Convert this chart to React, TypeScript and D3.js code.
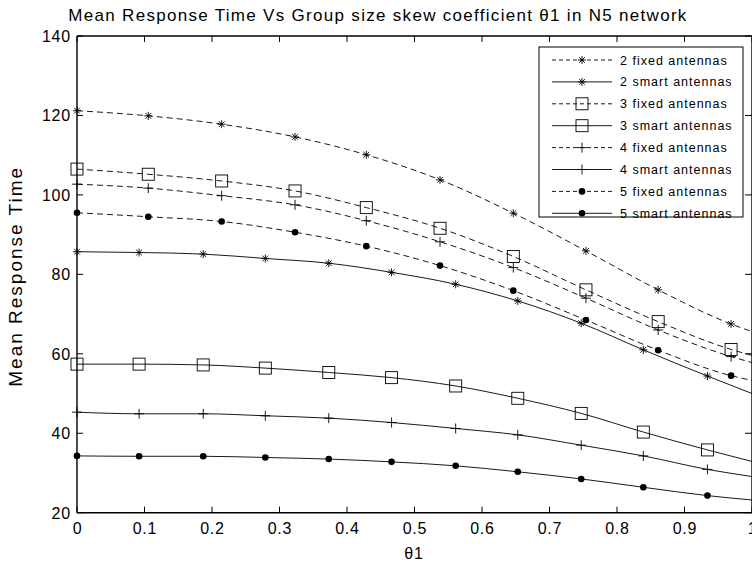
import React from "react";
import * as d3 from "d3";

const fixedX = [0, 0.1056, 0.2143, 0.323, 0.4286, 0.5378, 0.6464, 0.754, 0.861, 0.969, 1];
const smartX = [0, 0.092, 0.187, 0.279, 0.373, 0.466, 0.561, 0.653, 0.747, 0.839, 0.934, 1];

const fixed2 = [121.2, 119.9, 117.8, 114.6, 110.1, 103.8, 95.4, 85.9, 76.1, 67.5, 65.6];
const fixed3 = [106.5, 105.2, 103.5, 101.0, 96.8, 91.6, 84.5, 76.1, 68.1, 61.1, 59.6];
const fixed4 = [102.7, 101.7, 99.8, 97.5, 93.5, 88.2, 81.7, 74.0, 66.0, 59.3, 57.8];
const fixed5 = [95.5, 94.5, 93.3, 90.6, 87.1, 82.2, 75.9, 68.5, 60.9, 54.5, 53.3];
const smart2 = [85.7, 85.5, 85.1, 84.0, 82.8, 80.5, 77.5, 73.3, 67.7, 61.0, 54.4, 50.0];
const smart3 = [57.4, 57.4, 57.2, 56.4, 55.3, 54.0, 51.9, 48.8, 45.0, 40.3, 35.8, 32.9];
const smart4 = [45.3, 44.9, 44.9, 44.4, 43.8, 42.7, 41.2, 39.6, 37.0, 34.3, 30.9, 29.1];
const smart5 = [34.3, 34.2, 34.2, 33.9, 33.5, 32.8, 31.8, 30.3, 28.5, 26.4, 24.3, 23.2];

const seriesNames = [
  "2 fixed antennas",
  "2 smart antennas",
  "3 fixed antennas",
  "3 smart antennas",
  "4 fixed antennas",
  "4 smart antennas",
  "5 fixed antennas",
  "5 smart antennas",
];
const seriesMarkers = ["star", "star", "square", "square", "plus", "plus", "dot", "dot"];
const seriesDashed = [true, false, true, false, true, false, true, false];
const seriesX = [fixedX, smartX, fixedX, smartX, fixedX, smartX, fixedX, smartX];
const seriesY = [fixed2, smart2, fixed3, smart3, fixed4, smart4, fixed5, smart5];

const xTicks = [0, 0.1, 0.2, 0.3, 0.4, 0.5, 0.6, 0.7, 0.8, 0.9, 1];
const yTicks = [20, 40, 60, 80, 100, 120, 140];

const W = 752;
const H = 567;
const left = 77;
const right = 752;
const top = 36;
const bottom = 512.7;

const FONT = "Liberation Sans, Arial, Helvetica, sans-serif";

function Marker({ type, x, y }: { type: string; x: number; y: number }) {
  if (type === "star") {
    const r = 4;
    const d = 2.9;
    return (
      <g stroke="#000" strokeWidth={0.9}>
        <line x1={x - r} y1={y} x2={x + r} y2={y} />
        <line x1={x} y1={y - r} x2={x} y2={y + r} />
        <line x1={x - d} y1={y - d} x2={x + d} y2={y + d} />
        <line x1={x - d} y1={y + d} x2={x + d} y2={y - d} />
      </g>
    );
  }
  if (type === "plus") {
    const r = 5;
    return (
      <g stroke="#000" strokeWidth={0.9}>
        <line x1={x - r} y1={y} x2={x + r} y2={y} />
        <line x1={x} y1={y - r} x2={x} y2={y + r} />
      </g>
    );
  }
  if (type === "square") {
    const s = 6;
    return <rect x={x - s} y={y - s} width={2 * s} height={2 * s} fill="none" stroke="#000" strokeWidth={0.9} />;
  }
  return <circle cx={x} cy={y} r={3.3} fill="#000" />;
}

export default function App() {
  const xs = d3.scaleLinear().domain([0, 1]).range([left, right]);
  const ys = d3.scaleLinear().domain([20, 140]).range([bottom, top]);
  const line = d3
    .line<[number, number]>()
    .x((d) => xs(d[0]))
    .y((d) => ys(d[1]))
    .curve(d3.curveMonotoneX);

  const legX = 539;
  const legY = 47;
  const legW = 204;
  const legH = 170;
  const rowH = 21.9;

  return (
    <svg
      width={W}
      height={H}
      style={{ position: "absolute", left: 0, top: 0, background: "#fff" }}
      fontFamily={FONT}
    >
      <rect x={0} y={0} width={W} height={H} fill="#fff" />
      <text x={378} y={21} textAnchor="middle" fontSize={17} letterSpacing={1.3}>
        Mean Response Time Vs Group size skew coefficient θ1 in N5 network
      </text>

      {/* series */}
      {seriesY.map((ys_, i) => {
        const pts: [number, number][] = seriesX[i].map((x, j) => [x, ys_[j]]);
        return (
          <g key={i}>
            <path
              d={line(pts) || ""}
              fill="none"
              stroke="#000"
              strokeWidth={0.9}
              strokeDasharray={seriesDashed[i] ? "6,4" : undefined}
            />
            {pts.slice(0, pts.length - 1).map((p, j) => (
              <Marker key={j} type={seriesMarkers[i]} x={xs(p[0])} y={ys(p[1])} />
            ))}
          </g>
        );
      })}

      {/* axes box */}
      <g stroke="#000" strokeWidth={1.4} fill="none">
        <line x1={left} y1={bottom} x2={right} y2={bottom} />
        <line x1={left} y1={top} x2={right} y2={top} />
        <line x1={left} y1={top} x2={left} y2={bottom} />
        <line x1={right} y1={top} x2={right} y2={bottom} />
      </g>
      <g stroke="#000" strokeWidth={1}>
        {xTicks.map((t, i) => (
          <g key={i}>
            <line x1={xs(t)} y1={bottom} x2={xs(t)} y2={bottom - 6} />
            <line x1={xs(t)} y1={top} x2={xs(t)} y2={top + 6} />
          </g>
        ))}
        {yTicks.map((t, i) => (
          <g key={i}>
            <line x1={left} y1={ys(t)} x2={left + 6} y2={ys(t)} />
            <line x1={right} y1={ys(t)} x2={right - 7} y2={ys(t)} />
          </g>
        ))}
      </g>
      {xTicks.map((t, i) => (
        <text key={i} x={xs(t) + 0.5} y={534} textAnchor="middle" fontSize={16} letterSpacing={0.8}>
          {String(t)}
        </text>
      ))}
      {yTicks.map((t, i) => (
        <text key={i} x={71} y={ys(t) + 6} textAnchor="end" fontSize={16} letterSpacing={0.8}>
          {String(t)}
        </text>
      ))}
      <text x={414} y={559} textAnchor="middle" fontSize={16} letterSpacing={0.8}>
        θ1
      </text>
      <text
        transform={`translate(22, ${(top + bottom) / 2 + 2}) rotate(-90)`}
        textAnchor="middle"
        fontSize={19}
        letterSpacing={2}
      >
        Mean Response Time
      </text>

      {/* legend */}
      <rect x={legX} y={legY} width={legW} height={legH} fill="#fff" stroke="#000" strokeWidth={1} />
      {seriesNames.map((name, i) => {
        const cy = legY + 13 + i * rowH;
        return (
          <g key={i}>
            <line
              x1={552}
              y1={cy}
              x2={612}
              y2={cy}
              stroke="#000"
              strokeWidth={0.9}
              strokeDasharray={seriesDashed[i] ? "4,3" : undefined}
            />
            <Marker type={seriesMarkers[i]} x={582} y={cy} />
            <text x={620} y={cy + 4.5} fontSize={12.5} letterSpacing={1}>
              {name}
            </text>
          </g>
        );
      })}
    </svg>
  );
}
